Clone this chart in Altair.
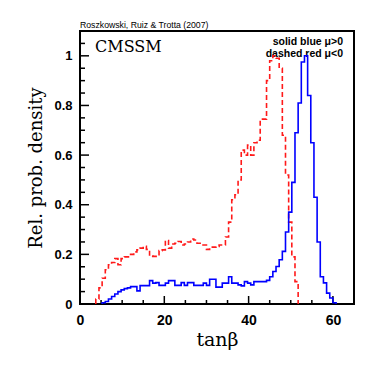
import altair as alt
import pandas as pd

# histogram bins (tan beta), width of each bin
bin_width = 0.75

# mu > 0 (solid blue), first bin index and relative densities
blue_first_bin = 7
blue_vals = [0.005, 0.01, 0.02, 0.03, 0.04, 0.05, 0.057, 0.062, 0.065, 0.07,
             0.07, 0.053, 0.074, 0.074, 0.074, 0.094, 0.084, 0.086, 0.075, 0.075,
             0.084, 0.094, 0.094, 0.075, 0.075, 0.086, 0.075, 0.086, 0.086, 0.075,
             0.075, 0.075, 0.084, 0.075, 0.1, 0.1, 0.068, 0.068, 0.084, 0.084,
             0.11, 0.084, 0.084, 0.077, 0.073, 0.09, 0.084, 0.077, 0.09, 0.09,
             0.09, 0.09, 0.095, 0.11, 0.131, 0.151, 0.178, 0.212, 0.29, 0.37,
             0.49, 0.69, 0.81, 0.975, 1.0, 0.84, 0.65, 0.43, 0.25, 0.11,
             0.085, 0.044, 0.024, 0.005]

# mu < 0 (dashed red)
red_first_bin = 5
red_vals = [0.02, 0.065, 0.104, 0.138, 0.158, 0.167, 0.183, 0.158, 0.183, 0.19,
            0.19, 0.2, 0.21, 0.218, 0.225, 0.232, 0.22, 0.194, 0.192, 0.192,
            0.215, 0.218, 0.256, 0.225, 0.242, 0.245, 0.252, 0.238, 0.242, 0.25,
            0.262, 0.258, 0.245, 0.238, 0.238, 0.22, 0.229, 0.229, 0.232, 0.238,
            0.238, 0.27, 0.33, 0.42, 0.44, 0.5, 0.62, 0.60, 0.64, 0.6,
            0.65, 0.66, 0.745, 0.745, 0.9, 0.98, 1.0, 0.99, 0.95, 0.68,
            0.52, 0.33, 0.19, 0.09]

x_labels = [0, 20, 40, 60]
y_labels = [0, 0.2, 0.4, 0.6, 0.8, 1]
x_minor = [5, 10, 15, 25, 30, 35, 45, 50, 55, 65]
y_minor = [0.05, 0.1, 0.15, 0.25, 0.3, 0.35, 0.45, 0.5, 0.55, 0.65, 0.7,
           0.75, 0.85, 0.9, 0.95, 1.05]

X_TITLE = "tanβ"
Y_TITLE = "Rel. prob. density"

W, H = 274, 273
xs = alt.Scale(domain=[0, 65], nice=False, zero=False)
ys = alt.Scale(domain=[0, 1.1], nice=False, zero=False)

x_axis = alt.Axis(
    values=x_labels, ticks=False, domain=False, grid=False, labelFlush=False,
    labelFont="Liberation Sans", labelFontWeight="bold", labelFontSize=14,
    labelColor="black", labelPadding=9,
    titleFont="DejaVu Serif", titleFontSize=19,
    titleFontWeight="normal", titleColor="black", titlePadding=3)
y_axis = alt.Axis(
    values=y_labels, format="~g", ticks=False, domain=False, grid=False,
    labelFlush=False,
    labelFont="Liberation Sans", labelFontWeight="bold", labelFontSize=13,
    labelColor="black", labelPadding=8,
    titleFont="DejaVu Serif", titleFontSize=18,
    titleFontWeight="normal", titleColor="black", titlePadding=8)


def outline(first, vals):
    edges = [(first + i) * bin_width for i in range(len(vals))]
    end = (first + len(vals)) * bin_width
    xv = [edges[0]] + edges + [end]
    yv = [0] + list(vals) + [0]
    return pd.DataFrame({"x": xv, "y": yv, "i": list(range(len(xv)))})


blue_df = outline(blue_first_bin, blue_vals)
red_df = outline(red_first_bin, red_vals)


def X(field):
    return alt.X(field, scale=xs, axis=x_axis, title=X_TITLE)


def Y(field):
    return alt.Y(field, scale=ys, axis=y_axis, title=Y_TITLE)


blue = alt.Chart(blue_df).mark_line(
    interpolate="step-after", color="#0000ff", strokeWidth=1.6
).encode(x=X("x:Q"), y=Y("y:Q"), order="i:Q")

red = alt.Chart(red_df).mark_line(
    interpolate="step-after", color="#ff1a1a", strokeWidth=1.6, strokeDash=[5, 3]
).encode(x=X("x:Q"), y=Y("y:Q"), order="i:Q")

xmaj = alt.Chart(pd.DataFrame({"x": x_labels})).mark_rule(color="black", strokeWidth=1.5).encode(
    x=X("x:Q"), y=alt.value(H), y2=alt.value(H - 8))
xmin = alt.Chart(pd.DataFrame({"x": x_minor})).mark_rule(color="black", strokeWidth=1.5).encode(
    x=X("x:Q"), y=alt.value(H), y2=alt.value(H - 4))
ymaj = alt.Chart(pd.DataFrame({"y": y_labels})).mark_rule(color="black", strokeWidth=1.5).encode(
    y=Y("y:Q"), x=alt.value(0), x2=alt.value(9))
ymin = alt.Chart(pd.DataFrame({"y": y_minor})).mark_rule(color="black", strokeWidth=1.5).encode(
    y=Y("y:Q"), x=alt.value(0), x2=alt.value(5))

texts = pd.DataFrame({
    "label": ["CMSSM", "solid  blue  μ>0", "dashed  red  μ<0",
              "Roszkowski, Ruiz & Trotta (2007)"],
})
cmssm = alt.Chart(texts.iloc[[0]]).mark_text(
    align="left", baseline="alphabetic", font="DejaVu Serif", fontSize=16, color="black"
).encode(x=alt.value(15), y=alt.value(21), text="label:N")
leg1 = alt.Chart(texts.iloc[[1]]).mark_text(
    align="right", baseline="alphabetic", font="Liberation Sans", fontWeight="bold",
    fontSize=10.5, color="black"
).encode(x=alt.value(263), y=alt.value(14), text="label:N")
leg2 = alt.Chart(texts.iloc[[2]]).mark_text(
    align="right", baseline="alphabetic", font="Liberation Sans", fontWeight="bold",
    fontSize=10.5, color="black"
).encode(x=alt.value(263), y=alt.value(26), text="label:N")
credit = alt.Chart(texts.iloc[[3]]).mark_text(
    align="left", baseline="alphabetic", font="Liberation Sans", fontSize=8.7, color="black"
).encode(x=alt.value(0), y=alt.value(-3), text="label:N")

chart = alt.layer(
    cmssm, leg1, leg2, credit, xmaj, xmin, ymaj, ymin, red, blue
).properties(
    width=W, height=H,
    autosize=alt.AutoSizeParams(type="none"),
    padding={"left": 72, "top": 23, "right": 12, "bottom": 62},
).configure_view(
    stroke="black", strokeWidth=2
)

chart.save("out.html", embed_options={"renderer": "svg", "actions": False})
